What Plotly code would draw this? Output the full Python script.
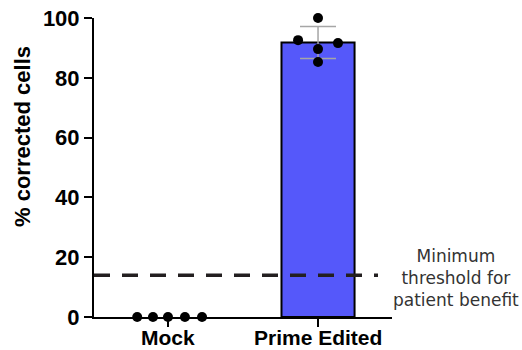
import numpy as np
import plotly.graph_objects as go

# Groups and per-replicate measurements (% corrected cells)
groups = ["Mock", "Prime Edited"]
mock_values = [0, 0, 0, 0, 0]
prime_values = [100, 92.6, 91.6, 89.6, 85.3]
threshold = 14
y_ticks = [0, 20, 40, 60, 80, 100]

# horizontal scatter of replicate dots around each group centre
mock_jitter = [-0.205, -0.1, 0.0, 0.113, 0.227]
prime_jitter = [0.0, -0.133, 0.133, 0.0, 0.0]

means = [float(np.mean(mock_values)), float(np.mean(prime_values))]
sds = [float(np.std(mock_values, ddof=1)), float(np.std(prime_values, ddof=1))]

BLUE = "#5558FA"
FONT = "Liberation Sans"

fig = go.Figure()

fig.add_trace(go.Bar(
    x=[1], y=[means[1]], width=0.487,
    marker=dict(color=BLUE, line=dict(color="black", width=2)),
    error_y=dict(type="data", array=[sds[1]], color="#A6A6A6", thickness=1.5, width=18),
    showlegend=False,
))

fig.add_trace(go.Scatter(
    x=[0 + j for j in mock_jitter], y=mock_values, mode="markers",
    marker=dict(color="black", size=10), cliponaxis=False, showlegend=False,
))
fig.add_trace(go.Scatter(
    x=[1 + j for j in prime_jitter], y=prime_values, mode="markers",
    marker=dict(color="black", size=10), cliponaxis=False, showlegend=False,
))

# minimum therapeutic threshold
fig.add_shape(type="line", xref="paper", yref="y", x0=0, x1=0.953,
              y0=threshold, y1=threshold,
              line=dict(color="#231F20", width=3.5, dash="16px,12px"))

fig.add_annotation(
    text="Minimum<br>threshold for<br>patient benefit",
    xref="paper", yref="paper", x=1.215, y=0.13,
    xanchor="center", yanchor="middle", showarrow=False, align="center",
    font=dict(family="DejaVu Sans", size=17, color="#333333"),
)

fig.add_annotation(
    text="% corrected cells", textangle=-90,
    xref="paper", yref="paper", x=-0.2416, y=0.602,
    xanchor="center", yanchor="middle", showarrow=False,
    font=dict(family=FONT, size=22, color="black", weight="bold"),
)

# category labels placed just under the x-axis ticks
for i, g in enumerate(groups):
    fig.add_annotation(
        text=g, xref="x", yref="paper", x=i, y=-0.0669,
        xanchor="center", yanchor="middle", showarrow=False, borderpad=0,
        font=dict(family=FONT, size=21, color="black", weight="bold"),
    )

fig.update_xaxes(
    range=[-0.493, 1.493], tickvals=[0, 1], showticklabels=False,
    ticks="outside", ticklen=8, tickwidth=2, tickcolor="black",
    showline=True, linewidth=2, linecolor="black",
    showgrid=False, zeroline=False, automargin=False,
)
fig.update_yaxes(
    range=[0, 100], tickvals=y_ticks,
    ticks="outside", ticklen=8, tickwidth=2, tickcolor="black",
    showline=True, linewidth=2, linecolor="black",
    showgrid=False, zeroline=False, automargin=False,
    tickfont=dict(family=FONT, size=22, color="black", weight="bold"),
)

fig.update_layout(
    width=522, height=350,
    margin=dict(l=94, r=130, t=18, b=33, autoexpand=False),
    paper_bgcolor="white", plot_bgcolor="white",
)

fig.write_html("out.html")
